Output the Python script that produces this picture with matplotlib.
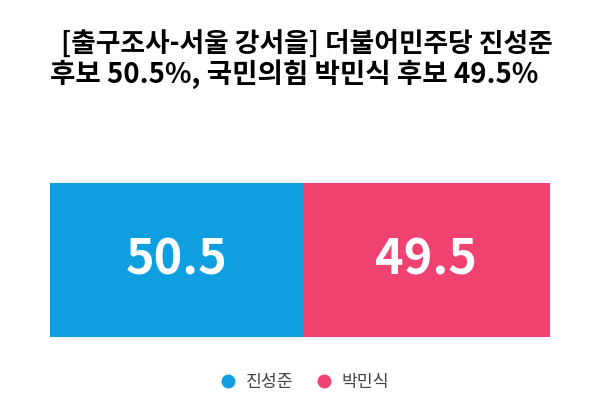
import matplotlib.pyplot as plt

plt.rcParams['font.family'] = ['Noto Sans CJK KR', 'DejaVu Sans']

candidates = ['진성준', '박민식']
shares = [50.5, 49.5]
colors = ['#0f9fe0', '#ef4271']
title_lines = ['[출구조사-서울 강서을] 더불어민주당 진성준', '후보 50.5%, 국민의힘 박민식 후보 49.5%']

fig = plt.figure(figsize=(6, 4.2), dpi=100)
ax = fig.add_axes([50 / 600, 1 - 337 / 420, 500 / 600, 154 / 420])

left = 0
for name, val, c in zip(candidates, shares, colors):
    ax.barh(0, val, left=left, height=1, color=c, label=name)
    ax.text(left + val / 2, 0, f'{val}', color='white', fontsize=35,
            fontweight='bold', ha='center', va='center')
    left += val

ax.set_xlim(0, sum(shares))
ax.set_ylim(-0.5, 0.5)
ax.axis('off')

# two title lines, each roughly centred as in the original
fig.text(307 / 600, 1 - 45 / 420, title_lines[0], ha='center', va='center',
         fontsize=19.3, fontweight='bold')
fig.text(294 / 600, 1 - 74 / 420, title_lines[1], ha='center', va='center',
         fontsize=19.9, fontweight='bold')

handles = [plt.Line2D([], [], marker='o', ls='', color=c, markersize=9) for c in colors]
fig.legend(handles, candidates, loc='center', bbox_to_anchor=(0.5, 1 - 382 / 420),
           ncol=2, frameon=False, fontsize=12.4, handletextpad=0.0, columnspacing=0.8,
           labelcolor='#444444')

fig.savefig('out.png', dpi=100)
